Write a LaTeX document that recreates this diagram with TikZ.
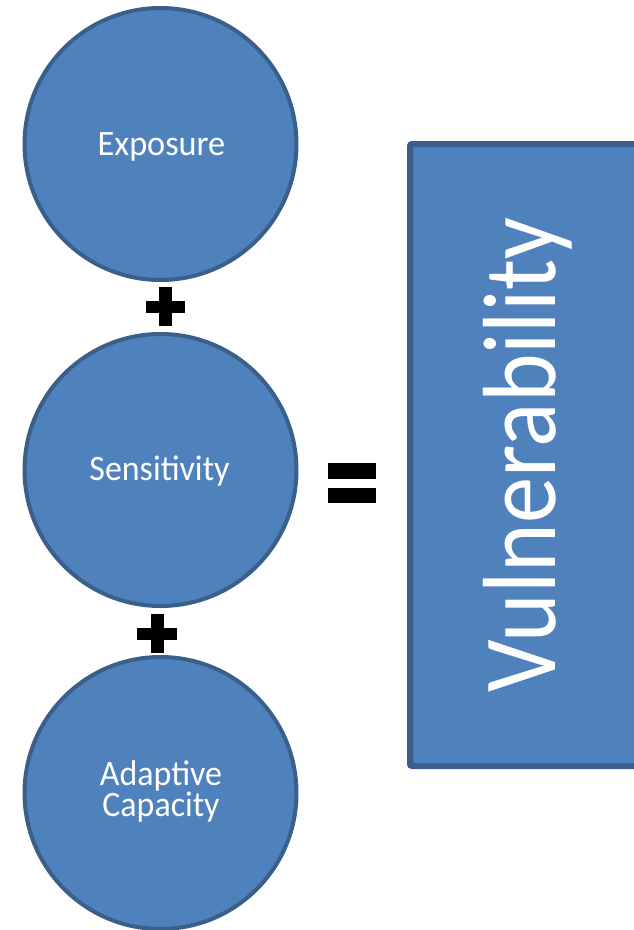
\documentclass[tikz,border=0pt]{standalone}
\usepackage{fontspec}
\setmainfont{Carlito}
\definecolor{bfill}{HTML}{4F81BD}
\definecolor{bline}{HTML}{3A5F8B}
\tikzset{
  circ/.style={circle, draw=bline, fill=bfill, line width=4pt, minimum size=272pt, inner sep=0pt},
  ctext/.style={text=white, anchor=base, inner sep=0pt, font=\fontsize{35.7}{31}\selectfont},
  sym/.style={fill=black}
}
\begin{document}
\begin{tikzpicture}[x=1pt,y=-1pt]
\useasboundingbox (0,0) rectangle (634,930);
\clip (0,0) rectangle (634,930);
% circles
\node[circ] (exp) at (160.5,144) {};
\node[circ] (sen) at (160.5,470) {};
\node[circ] (ada) at (160.5,793) {};
\node[ctext] (texp) at (161.5,155) {\scalebox{0.96}[1]{Exposure}};
\node[ctext] (tsen) at (159.5,480) {\scalebox{0.95}[1]{Sensitivity}};
\node[ctext] (tada1) at (161,785) {\scalebox{0.95}[1]{Adaptive}};
\node[ctext] (tada2) at (161,816) {\scalebox{0.95}[1]{Capacity}};
% plus signs
\fill[sym] (159,287) rectangle (172,326);
\fill[sym] (146,300.5) rectangle (185,312.5);
\fill[sym] (150.5,614) rectangle (163.5,653);
\fill[sym] (137,627.5) rectangle (177,639.5);
% equals
\fill[sym] (328,463) rectangle (376,479);
\fill[sym] (328,488) rectangle (376,503);
% vulnerability box
\draw[draw=bline, fill=bfill, line width=6pt, rounded corners=2pt] (410,144) rectangle (680,766);
\node[text=white, anchor=base, rotate=90, inner sep=0pt, font=\fontsize{104}{110}\selectfont] (vul) at (555,455) {\scalebox{0.89}[1]{Vulnerability}};
\end{tikzpicture}
\end{document}
